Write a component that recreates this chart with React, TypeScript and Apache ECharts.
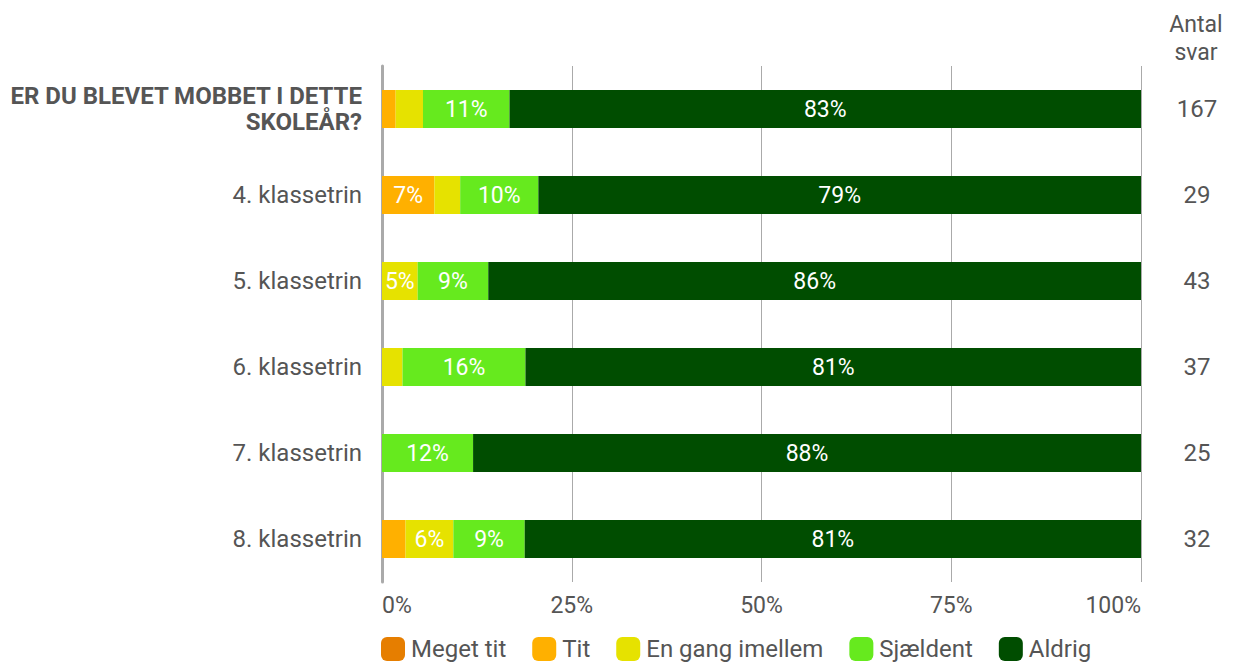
import React, { useEffect, useRef } from "react";
import * as echarts from "echarts";

const categories = [
  "ER DU BLEVET MOBBET I DETTE\nSKOLEÅR?",
  "4. klassetrin",
  "5. klassetrin",
  "6. klassetrin",
  "7. klassetrin",
  "8. klassetrin",
];
const antalSvar = ["167", "29", "43", "37", "25", "32"];
const megetTit = [0, 0, 0, 0, 0, 0];
const tit = [1.8, 6.9, 0, 0, 0, 3.1];
const enGang = [3.6, 3.4, 4.7, 2.7, 0, 6.3];
const sjaeldent = [11.4, 10.3, 9.3, 16.2, 12.0, 9.4];
const aldrig = [83.2, 79.4, 86.0, 81.1, 88.0, 81.2];
const xTicks = [0, 25, 50, 75, 100];

const seriesDefs = [
  { name: "Meget tit", data: megetTit, color: "#E67E00" },
  { name: "Tit", data: tit, color: "#FFB000" },
  { name: "En gang imellem", data: enGang, color: "#E6E200" },
  { name: "Sjældent", data: sjaeldent, color: "#66EA1E" },
  { name: "Aldrig", data: aldrig, color: "#004D00" },
];

const FONT = "Roboto, 'Noto Sans', sans-serif";
const TXT = "#555";

export default function App() {
  const ref = useRef<HTMLDivElement>(null);
  useEffect(() => {
    if (!ref.current) return;
    const chart = echarts.init(ref.current, undefined, { renderer: "svg" });
    chart.setOption({
      animation: false,
      textStyle: { fontFamily: FONT },
      grid: { left: 382, right: 96, top: 66, bottom: 82, containLabel: false },
      legend: {
        left: 381,
        top: 637,
        padding: 0,
        itemWidth: 24,
        itemHeight: 24,
        itemGap: 26,
        icon: "roundRect",
        textStyle: { fontSize: 24, color: TXT, fontFamily: FONT, padding: [0, 0, 0, 1] },
        data: seriesDefs.map((s) => s.name),
      },
      graphic: [
        {
          type: "text",
          x: 1196,
          y: 10,
          style: {
            text: "Antal\nsvar",
            fontSize: 23,
            fill: TXT,
            fontFamily: FONT,
            lineHeight: 28,
            align: "center",
            verticalAlign: "top",
          },
        },
      ],
      xAxis: {
        type: "value",
        min: 0,
        max: 100,
        interval: 25,
        axisLine: { show: false },
        axisTick: { show: false },
        splitLine: { show: true, lineStyle: { color: "#aaa", width: 1 } },
        axisLabel: {
          formatter: (v: number) => (xTicks.includes(v) ? v + "%" : ""),
          fontSize: 23,
          color: TXT,
          margin: 12,
          fontFamily: FONT,
          alignMinLabel: "left",
          alignMaxLabel: "right",
        },
      },
      yAxis: [
        {
          type: "category",
          data: categories,
          inverse: true,
          axisLine: { show: true, lineStyle: { color: "#aaa", width: 3 } },
          axisTick: { show: false },
          axisLabel: {
            fontSize: 24,
            color: TXT,
            margin: 20,
            fontFamily: FONT,
            formatter: (v: string, i: number) =>
              i === 0 ? "{b|" + v.split("\n").join("}\n{b|") + "}" : v,
            rich: {
              b: {
                fontSize: 24,
                fontWeight: "bold",
                color: TXT,
                fontFamily: FONT,
                lineHeight: 26,
                align: "right",
              },
            },
          },
        },
        {
          type: "category",
          data: antalSvar,
          inverse: true,
          position: "right",
          axisLine: { show: false },
          axisTick: { show: false },
          axisLabel: {
            fontSize: 24,
            color: TXT,
            margin: 56,
            align: "center",
            fontFamily: FONT,
          },
        },
      ],
      series: seriesDefs.map((s) => ({
        name: s.name,
        type: "bar",
        stack: "total",
        yAxisIndex: 0,
        barWidth: 38,
        data: s.data,
        itemStyle: { color: s.color },
        label: {
          show: true,
          position: "inside",
          color: "#fff",
          fontSize: 23,
          fontFamily: FONT,
          formatter: (p: any) => (p.value >= 4.5 ? Math.round(p.value) + "%" : ""),
        },
      })),
    });
    return () => chart.dispose();
  }, []);
  return (
    <div
      ref={ref}
      style={{ position: "absolute", left: 0, top: 0, width: 1237, height: 664 }}
    />
  );
}
